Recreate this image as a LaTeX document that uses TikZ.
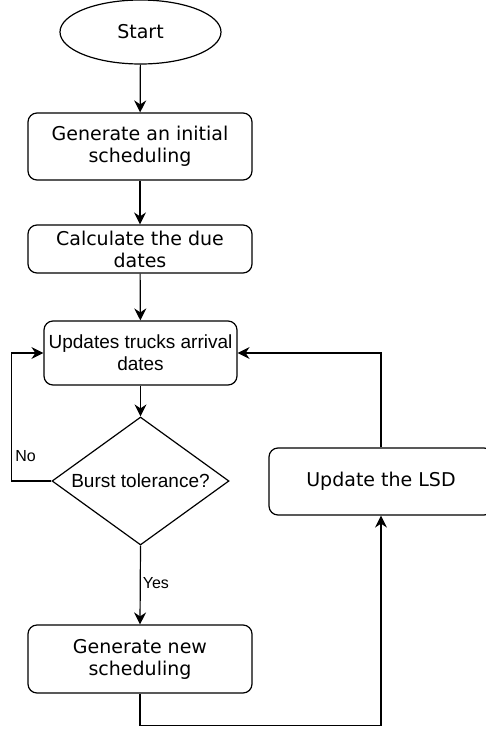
\documentclass[tikz,border=0pt]{standalone}
\usepackage{fontspec}
\setmainfont{DejaVu Sans}
\newfontfamily\helv{Liberation Sans}
\usetikzlibrary{shapes.geometric,arrows.meta}

\tikzset{
  BoxStyle/.style   = {draw, line width=1.2pt, rounded corners=9pt, align=center,
                       inner sep=0pt, minimum width=224pt,
                       font=\fontsize{19}{22}\selectfont},
  StartStyle/.style = {draw, ellipse, line width=1.2pt, inner sep=0pt,
                       minimum width=161pt, minimum height=64pt,
                       font=\fontsize{19}{22}\selectfont},
  TestStyle/.style  = {draw, diamond, line width=1.2pt, inner sep=0pt, shape aspect=1.38,
                       minimum width=177pt, minimum height=128pt,
                       font=\helv\fontsize{19}{22}\selectfont},
  LabelStyle/.style = {inner sep=2pt, font=\helv\fontsize{16}{18}\selectfont},
  EdgeStyle/.style  = {line width=1.2pt, -{Stealth[length=12pt,width=12pt,inset=4pt]}}
}

\begin{document}
\begin{tikzpicture}[x=1pt,y=-1pt]
  \useasboundingbox (0,0) rectangle (486,729);
  %% start, initial, due dates, arrival, test, new, LSD
  \node[StartStyle] (start) at (140.5,32) {Start};
  \node[BoxStyle, minimum height=67pt] (init) at (140,146.5) {Generate an initial\\scheduling};
  \node[BoxStyle, minimum height=48pt] (due) at (140,249) {Calculate the due\\dates};
  \node[BoxStyle, minimum width=193pt, minimum height=64pt, font=\helv\fontsize{19}{22}\selectfont]
       (arrival) at (140.5,353) {Updates trucks arrival\\dates};
  \node[TestStyle] (burst) at (140.5,481) {Burst tolerance?};
  \node[BoxStyle, minimum height=68pt] (new) at (140,659) {Generate new\\scheduling};
  \node[BoxStyle, minimum height=67pt] (lsd) at (381,481.5) {Update the LSD};
  %% connectors
  \draw[EdgeStyle] (start) -- (init);
  \draw[EdgeStyle] (init) -- (due);
  \draw[EdgeStyle] (due) -- (arrival);
  \draw[EdgeStyle] (arrival) -- (burst);
  \draw[EdgeStyle] (burst.south) -- (new.north)
       node[LabelStyle, pos=0.47, anchor=west] (yes) {Yes};
  \draw[EdgeStyle] (burst.west) -- ++(-40,0) |- (arrival.west);
  \node[LabelStyle] (no) at (25.5,456) {No};
  \draw[EdgeStyle] (new.south) -- ++(0,32) -| (lsd.south);
  \draw[EdgeStyle] (lsd.north) |- (arrival.east);
\end{tikzpicture}
\end{document}
